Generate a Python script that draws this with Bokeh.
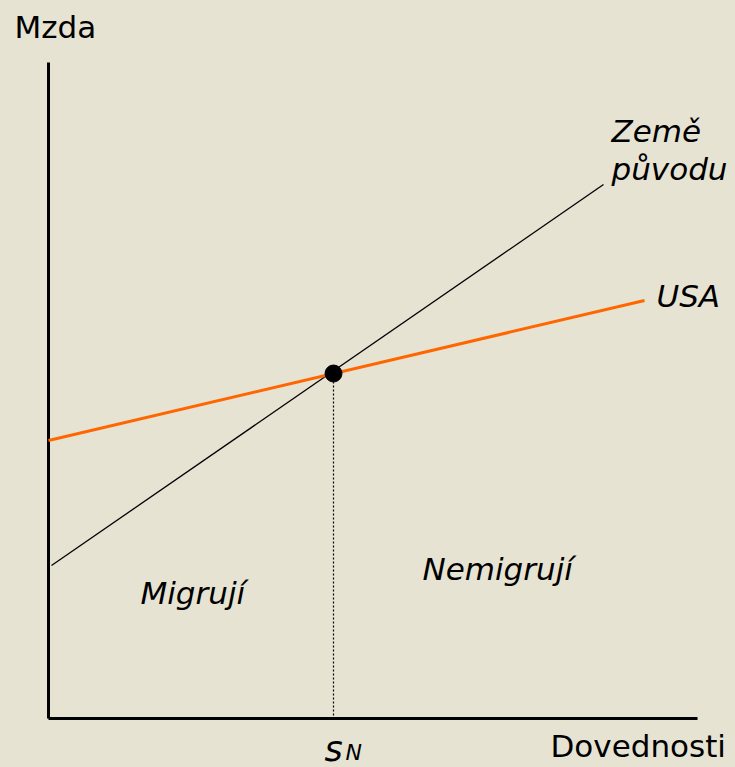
from bokeh.plotting import figure
from bokeh.models import Range1d
from bokeh.core.properties import value
from bokeh.embed import file_html
from bokeh.resources import INLINE

BG = "#e6e3d3"

# Schematic data (skill on x, wage on y), arbitrary units
home_x = [0.3, 55.5]          # "Země původu" wage schedule
home_y = [15.3, 53.4]
usa_x = [0.0, 59.6]           # "USA" wage schedule
usa_y = [27.8, 41.8]
s_n = 28.5                    # threshold skill level
w_n = 34.5                    # wage at threshold
axis_x_max = 64.9
axis_y_max = 65.6

p = figure(width=735, height=767, output_backend="svg", toolbar_location=None,
           x_range=Range1d(-4.8, 68.7), y_range=Range1d(-4.9, 71.8),
           min_border=0, min_border_left=0, min_border_right=0,
           min_border_top=0, min_border_bottom=0)
p.axis.visible = False
p.grid.visible = False
p.outline_line_color = None
p.background_fill_color = BG
p.border_fill_color = BG

# axes
p.segment(x0=[0, 0], y0=[0, 0], x1=[0, axis_x_max], y1=[axis_y_max, 0],
          line_color="black", line_width=3)

# dotted drop line
p.segment(x0=[s_n], y0=[w_n], x1=[s_n], y1=[0], line_color="black",
          line_width=1.2, line_dash="2 2")

# schedules
p.line(home_x, home_y, line_color="black", line_width=1.3)
p.line(usa_x, usa_y, line_color="#ff6600", line_width=3)

# equilibrium point
p.scatter([s_n], [w_n], size=17, color="black")

font = value("DejaVu Sans")

def label(x, y, t, size="31px", style="normal"):
    p.text(x=[x], y=[y + 1.0], text=[t], text_font=font, text_font_size=size,
           text_font_style=style, text_color="black",
           text_align="left", text_baseline="alphabetic")

label(-3.4, 68.2, "Mzda")
label(50.2, -3.7, "Dovednosti")
label(56.3, 57.8, "Země", style="italic")
label(56.3, 54.0, "původu", style="italic")
label(60.8, 41.3, "USA", style="italic")
label(9.2, 11.6, "Migrují", style="italic")
label(37.4, 14.0, "Nemigrují", style="italic")
label(27.6, -4.0, "s", size="35px", style="italic")
label(29.7, -4.35, "N", size="22px", style="italic")

html = file_html(p, INLINE)
html = html.replace("</head>", "<style>body{background:%s;}</style></head>" % BG, 1)
open("out.html", "w").write(html)
